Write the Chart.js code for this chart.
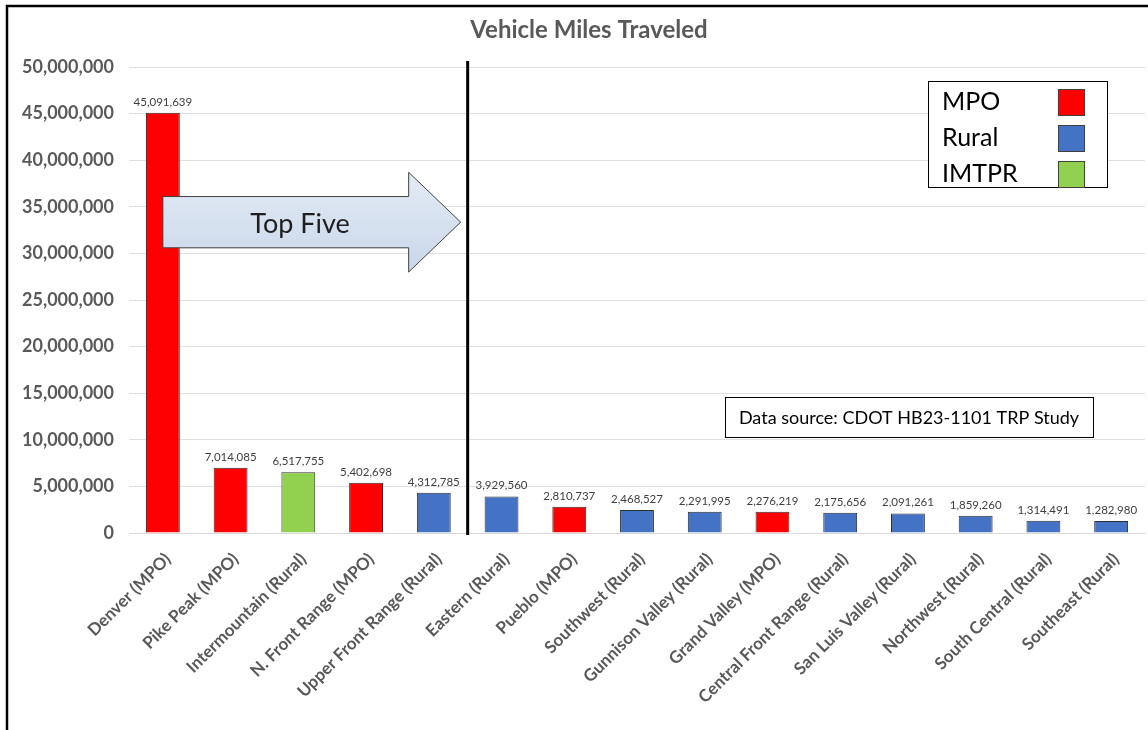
<!DOCTYPE html>
<html>
<head>
<meta charset="utf-8">
<title>Vehicle Miles Traveled</title>
<script src="https://cdn.jsdelivr.net/npm/chart.js@4.4.1/dist/chart.umd.min.js"></script>
<style>
  body { margin: 0; background: #ffffff; }
  #wrap { width: 1148px; height: 730px; position: relative; }
</style>
</head>
<body>
<div id="wrap"><canvas id="vmtChart" width="1148" height="730"></canvas></div>
<script>
// chart data
const regions = [
  "Denver (MPO)",
  "Pike Peak (MPO)",
  "Intermountain (Rural)",
  "N. Front Range (MPO)",
  "Upper Front Range (Rural)",
  "Eastern (Rural)",
  "Pueblo (MPO)",
  "Southwest (Rural)",
  "Gunnison Valley (Rural)",
  "Grand Valley (MPO)",
  "Central Front Range (Rural)",
  "San Luis Valley (Rural)",
  "Northwest (Rural)",
  "South Central (Rural)",
  "Southeast (Rural)",
];
const milesTraveled = [
  45091639, 7014085, 6517755, 5402698, 4312785, 3929560, 2810737, 2468527,
  2291995, 2276219, 2175656, 2091261, 1859260, 1314491, 1282980,
];
const regionTypes = [
  "MPO", "MPO", "IMTPR", "MPO", "Rural", "Rural", "MPO", "Rural",
  "Rural", "MPO", "Rural", "Rural", "Rural", "Rural", "Rural",
];
const legendTypes = ["MPO", "Rural", "IMTPR"];
const yTicks = [0, 5000000, 10000000, 15000000, 20000000, 25000000, 30000000, 35000000, 40000000, 45000000, 50000000];

const typeColors = { MPO: "#ff0000", Rural: "#4472c4", IMTPR: "#92d050" };
const barColors = regionTypes.map((t) => typeColors[t]);
const gray = "#595959";
const fontName = "Lato, 'Open Sans', sans-serif";

// handle extra drawings (title, frame, labels, arrow, boxes)
const extrasPlugin = {
  id: "extras",
  afterDatasetsDraw(chart) {
    const ctx = chart.ctx;
    const area = chart.chartArea;
    const x = chart.scales.x;
    const y = chart.scales.y;
    ctx.save();

    // chart title (sits a bit right of centre in the original)
    ctx.fillStyle = gray;
    ctx.font = "bold 24px " + fontName;
    ctx.textAlign = "center";
    ctx.textBaseline = "middle";
    ctx.fillText("Vehicle Miles Traveled", 589, 30);

    // value labels above bars
    const meta = chart.getDatasetMeta(0);
    ctx.fillStyle = "#404040";
    ctx.font = "11.5px " + fontName;
    ctx.textAlign = "center";
    ctx.textBaseline = "bottom";
    meta.data.forEach((bar, i) => {
      ctx.fillText(milesTraveled[i].toLocaleString("en-US"), bar.x, bar.y - 5);
    });

    // divider line after top five
    const divX = (x.getPixelForValue(4) + x.getPixelForValue(5)) / 2;
    ctx.strokeStyle = "#000000";
    ctx.lineWidth = 3;
    ctx.beginPath();
    ctx.moveTo(divX, area.top - 6);
    ctx.lineTo(divX, area.bottom + 2);
    ctx.stroke();

    // "Top Five" arrow
    const ax0 = x.getPixelForValue(0);
    const ax1 = divX - 7;
    const headX = ax1 - 52;
    const bodyTop = y.getPixelForValue(36100000);
    const bodyBot = y.getPixelForValue(30600000);
    const headTop = y.getPixelForValue(38700000);
    const headBot = y.getPixelForValue(28000000);
    const midY = (bodyTop + bodyBot) / 2;
    const grad = ctx.createLinearGradient(0, headTop, 0, headBot);
    grad.addColorStop(0, "#e3ebf5");
    grad.addColorStop(1, "#c9d7ea");
    ctx.beginPath();
    ctx.moveTo(ax0, bodyTop);
    ctx.lineTo(headX, bodyTop);
    ctx.lineTo(headX, headTop);
    ctx.lineTo(ax1, midY);
    ctx.lineTo(headX, headBot);
    ctx.lineTo(headX, bodyBot);
    ctx.lineTo(ax0, bodyBot);
    ctx.closePath();
    ctx.fillStyle = grad;
    ctx.fill();
    ctx.strokeStyle = "#404040";
    ctx.lineWidth = 1;
    ctx.stroke();
    ctx.fillStyle = "#1f1f1f";
    ctx.font = "27px " + fontName;
    ctx.textAlign = "center";
    ctx.textBaseline = "middle";
    ctx.fillText("Top Five", 300, midY + 2);

    // legend box
    const lx = 928, ly = 81, lw = 179, lh = 106;
    ctx.fillStyle = "#ffffff";
    ctx.fillRect(lx, ly, lw, lh);
    ctx.strokeStyle = "#000000";
    ctx.lineWidth = 1;
    ctx.strokeRect(lx + 0.5, ly + 0.5, lw, lh);
    ctx.font = "25px " + fontName;
    ctx.textAlign = "left";
    legendTypes.forEach((t, i) => {
      const cy = ly + 21 + i * 36;
      ctx.fillStyle = "#000000";
      ctx.fillText(t, lx + 14, cy);
      ctx.fillStyle = typeColors[t];
      ctx.fillRect(lx + 130, cy - 13, 26, 26);
      ctx.strokeStyle = "#404040";
      ctx.strokeRect(lx + 130.5, cy - 12.5, 26, 26);
    });

    // data source box
    const sx = 725, sy = 397, sw = 368, sh = 40;
    ctx.fillStyle = "#ffffff";
    ctx.fillRect(sx, sy, sw, sh);
    ctx.strokeStyle = "#000000";
    ctx.strokeRect(sx + 0.5, sy + 0.5, sw, sh);
    ctx.fillStyle = "#000000";
    ctx.font = "18px " + fontName;
    ctx.textAlign = "center";
    ctx.fillText("Data source: CDOT HB23-1101 TRP Study", sx + sw / 2, sy + sh / 2 + 1);

    // outer frame (no right or bottom edge visible)
    ctx.strokeStyle = "#000000";
    ctx.lineWidth = 2.5;
    ctx.beginPath();
    ctx.moveTo(7, 740);
    ctx.lineTo(7, 6);
    ctx.lineTo(1150, 6);
    ctx.stroke();

    ctx.restore();
  },
};

const ctxVmt = document.getElementById("vmtChart");

new Chart(ctxVmt, {
  type: "bar",
  data: {
    labels: regions,
    datasets: [
      {
        label: "Vehicle Miles Traveled",
        data: milesTraveled,
        backgroundColor: barColors,
        borderColor: "#2f2f2f",
        borderWidth: 1,
        barPercentage: 0.5,
        categoryPercentage: 1,
      },
    ],
  },
  options: {
    responsive: false,
    animation: false,
    layout: { padding: { left: 0, right: 3, top: 67, bottom: 0 } },
    plugins: {
      legend: { display: false },
      tooltip: { enabled: false },
      title: { display: false },
    },
    scales: {
      x: {
        grid: { display: false },
        border: { color: "#d9d9d9" },
        ticks: {
          color: gray,
          font: { family: fontName, size: 17, weight: "bold" },
          minRotation: 45,
          maxRotation: 45,
          autoSkip: false,
          padding: 8,
          labelOffset: 5,
        },
        afterFit(scale) {
          scale.height = 197;
        },
      },
      y: {
        min: 0,
        max: 50000000,
        afterBuildTicks(scale) {
          scale.ticks = yTicks.map((v) => ({ value: v }));
        },
        grid: { color: "#e0e0e0", drawTicks: false },
        border: { display: false },
        ticks: {
          color: gray,
          font: { family: fontName, size: 18, weight: "bold" },
          padding: 15,
          callback: (v) => v.toLocaleString("en-US"),
        },
        afterFit(scale) {
          scale.width = 129;
        },
      },
    },
  },
  plugins: [extrasPlugin],
});
</script>
</body>
</html>
